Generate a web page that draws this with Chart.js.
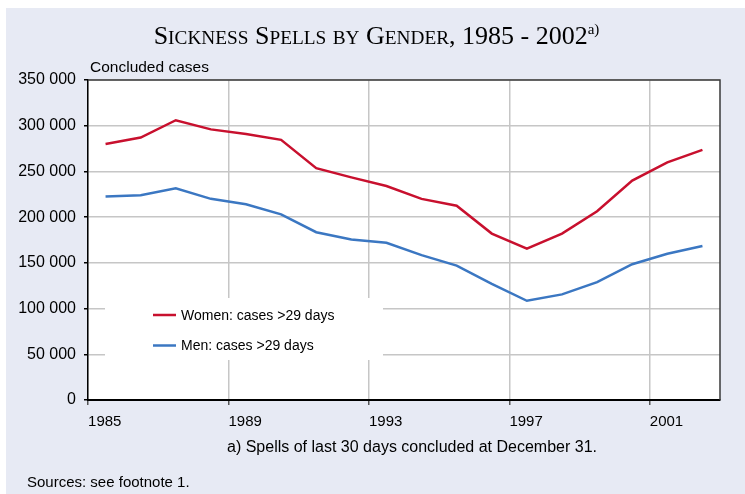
<!DOCTYPE html>
<html>
<head>
<meta charset="utf-8">
<script src="https://cdn.jsdelivr.net/npm/chart.js@4.4.0/dist/chart.umd.min.js"></script>
<style>
  html, body { margin: 0; padding: 0; background: #fff; }
  #wrap { width: 745px; height: 494px; }
</style>
</head>
<body>
<div id="wrap"><canvas id="chart" width="745" height="494"></canvas></div>
<script>
const years = ['1985', '1986', '1987', '1988', '1989', '1990', '1991', '1992', '1993',
  '1994', '1995', '1996', '1997', '1998', '1999', '2000', '2001', '2002'];
const women = [280000, 287000, 306000, 296000, 291000, 284500, 253500, 243500, 234000,
  220000, 212500, 182000, 165500, 182000, 206500, 240000, 260000, 273500];
const men = [222500, 224000, 231500, 220000, 214000, 203000, 183500, 175500, 172000,
  158500, 147000, 127000, 108500, 115500, 129000, 148500, 160000, 168500];
const seriesNames = ['Women: cases >29 days', 'Men: cases >29 days'];
const seriesColors = ['#c8102e', '#3b77c2'];

const titleText = 'Sickness Spells by Gender, 1985 - 2002';
const titleNote = 'a)';
const yTitle = 'Concluded cases';
const footnote = 'a) Spells of last 30 days concluded at December 31.';
const sources = 'Sources: see footnote 1.';

const sans = '"Liberation Sans", Arial, sans-serif';
const serif = '"Liberation Serif", "Times New Roman", serif';
const gridColor = '#c6c6c6';
const bgColor = '#e7eaf4';

function spaced(v) {
  return String(v).replace(/\B(?=(\d{3})+(?!\d))/g, ' ');
}

// small caps title done by hand: lower case letters drawn as smaller capitals
function drawTitle(ctx) {
  const parts = [];
  for (const ch of titleText) {
    const lower = ch !== ch.toUpperCase();
    parts.push({ t: lower ? ch.toUpperCase() : ch, f: (lower ? 19.3 : 26) + 'px ' + serif, dy: 0 });
  }
  parts.push({ t: titleNote, f: '15px ' + serif, dy: -10 });
  let w = 0;
  parts.forEach(p => { ctx.font = p.f; p.w = ctx.measureText(p.t).width; w += p.w; });
  let x = 376.5 - w / 2;
  ctx.fillStyle = '#000';
  ctx.textBaseline = 'alphabetic';
  ctx.textAlign = 'left';
  parts.forEach(p => { ctx.font = p.f; ctx.fillText(p.t, x, 43.5 + p.dy); x += p.w; });
}

const frame = {
  id: 'frame',
  beforeDraw(chart) {
    const ctx = chart.ctx;
    ctx.save();
    ctx.fillStyle = '#fff';
    ctx.fillRect(0, 0, chart.width, chart.height);
    ctx.fillStyle = bgColor;
    ctx.fillRect(6, 8, chart.width - 6, chart.height - 8);
    ctx.fillStyle = '#fff';
    const a = chart.chartArea;
    ctx.fillRect(a.left, a.top, a.right - a.left, a.bottom - a.top);
    ctx.restore();
  },
  beforeDatasetsDraw(chart) {
    // legend sits inside the plot on a white box that hides the grid
    const ctx = chart.ctx, a = chart.chartArea;
    ctx.save();
    ctx.fillStyle = '#fff';
    ctx.fillRect(a.left + 17, 298, 278, 62);
    ctx.font = '14px ' + sans;
    ctx.textBaseline = 'middle';
    ctx.textAlign = 'left';
    seriesNames.forEach((name, i) => {
      const y = 315 + i * 30.5;
      ctx.strokeStyle = seriesColors[i];
      ctx.lineWidth = 2.5;
      ctx.beginPath();
      ctx.moveTo(a.left + 65, y);
      ctx.lineTo(a.left + 88, y);
      ctx.stroke();
      ctx.fillStyle = '#000';
      ctx.fillText(name, a.left + 93, y + 1);
    });
    ctx.restore();
  },
  afterDraw(chart) {
    const ctx = chart.ctx, a = chart.chartArea;
    ctx.save();
    ctx.strokeStyle = '#3a3a3a';
    ctx.lineWidth = 1.5;
    ctx.beginPath();
    ctx.moveTo(a.left, a.top);
    ctx.lineTo(a.right, a.top);
    ctx.lineTo(a.right, a.bottom);
    ctx.stroke();

    drawTitle(ctx);
    ctx.fillStyle = '#000';
    ctx.textBaseline = 'middle';
    ctx.textAlign = 'left';
    ctx.font = '15.5px ' + sans;
    ctx.fillText(yTitle, a.left + 2, 68);
    ctx.textAlign = 'center';
    ctx.font = '16px ' + sans;
    ctx.fillText(footnote, 412, 448);
    ctx.textAlign = 'left';
    ctx.font = '15px ' + sans;
    ctx.fillText(sources, 27, 483);
    ctx.restore();
  }
};

new Chart(document.getElementById('chart'), {
  type: 'line',
  data: {
    labels: years,
    datasets: [
      { label: seriesNames[0], data: women, borderColor: seriesColors[0], borderWidth: 2.5, pointRadius: 0, tension: 0 },
      { label: seriesNames[1], data: men, borderColor: seriesColors[1], borderWidth: 2.5, pointRadius: 0, tension: 0 }
    ]
  },
  options: {
    responsive: false,
    animation: false,
    devicePixelRatio: 1,
    layout: { padding: { left: 0, right: 25, top: 80, bottom: 54 } },
    plugins: { legend: { display: false }, tooltip: { enabled: false }, title: { display: false } },
    scales: {
      x: {
        offset: true,
        grid: {
          offset: true,
          lineWidth: 1.5,
          color: c => c.index % 4 === 0 ? gridColor : 'transparent',
          tickLength: 5,
          tickColor: c => c.index % 4 === 0 ? '#555' : 'transparent'
        },
        border: { color: '#000', width: 2 },
        ticks: {
          autoSkip: false,
          maxRotation: 0,
          align: 'start',
          labelOffset: -17.5,
          padding: 8,
          color: '#000',
          font: { family: sans, size: 15 },
          callback: (v, i) => i % 4 === 0 ? years[i] : ''
        },
        afterFit: s => { s.height = 40; }
      },
      y: {
        min: 0,
        max: 350000,
        ticks: {
          stepSize: 50000,
          padding: 8,
          color: '#000',
          font: { family: sans, size: 16 },
          callback: v => spaced(v)
        },
        grid: { color: gridColor, lineWidth: 1.5, tickLength: 4, tickColor: '#000' },
        border: { color: '#000', width: 1.5 },
        afterFit: s => { s.width = 88; }
      }
    }
  },
  plugins: [frame]
});
</script>
</body>
</html>
